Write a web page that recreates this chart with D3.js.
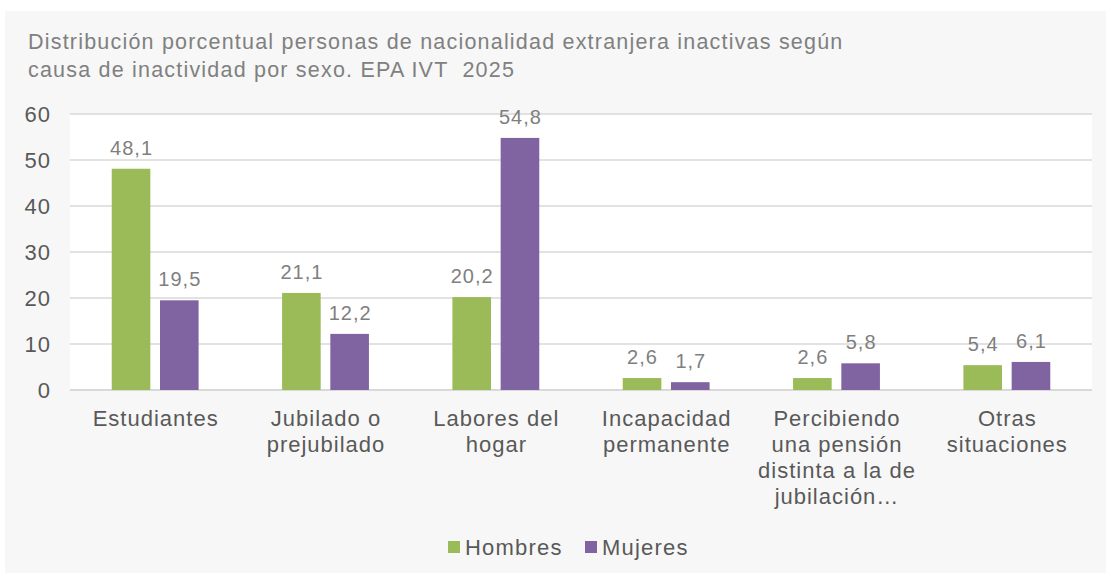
<!DOCTYPE html>
<html>
<head>
<meta charset="utf-8">
<script src="https://cdn.jsdelivr.net/npm/d3@7"></script>
<style>
  body { margin: 0; background: #ffffff; }
  text { font-family: "Liberation Sans", Arial, sans-serif; }
</style>
</head>
<body>
<div id="chart"></div>
<script>

var categories = [
  ["Estudiantes"],
  ["Jubilado o", "prejubilado"],
  ["Labores del", "hogar"],
  ["Incapacidad", "permanente"],
  ["Percibiendo", "una pensión", "distinta a la de", "jubilación…"],
  ["Otras", "situaciones"]
];
var series = ["Hombres", "Mujeres"];
var hombres = [48.1, 21.1, 20.2, 2.6, 2.6, 5.4];
var mujeres = [19.5, 12.2, 54.8, 1.7, 5.8, 6.1];
var yTicks = [0, 10, 20, 30, 40, 50, 60];
var titleLines = [
  "Distribución porcentual personas de nacionalidad extranjera inactivas según",
  "causa de inactividad por sexo. EPA IVT  2025"
];

var colors = {Hombres: "#9bbb59", Mujeres: "#8064a2"};
var values = {Hombres: hombres, Mujeres: mujeres};

var W = 1106, H = 574;
var margin = {top: 114, right: 14, bottom: 184, left: 70},
    width = W - margin.left - margin.right,
    height = H - margin.top - margin.bottom;

var svg = d3.select("#chart").append("svg")
  .attr("width", W)
  .attr("height", H);

// chart background
svg.append("rect")
  .attr("x", 5).attr("y", 11)
  .attr("width", W - 5).attr("height", H - 12)
  .attr("fill", "#f7f7f7");

// title
svg.append("g").selectAll("text")
  .data(titleLines)
  .enter().append("text")
    .attr("x", 28)
    .attr("y", function(d, i) { return 49 + i * 28; })
    .attr("fill", "#808080")
    .style("font-size", "21.5px")
    .style("letter-spacing", "1.2px")
    .style("white-space", "pre")
    .text(function(d) { return d; });

var g = svg.append("g")
  .attr("transform", "translate(" + margin.left + "," + margin.top + ")");

g.append("rect")
  .attr("width", width)
  .attr("height", height)
  .attr("fill", "#ffffff");

var x0 = d3.scaleBand()
  .domain(d3.range(categories.length))
  .range([0, width])
  .paddingInner(0.49)
  .paddingOuter(0.245);

var x1 = d3.scaleBand()
  .domain(series)
  .range([0, x0.bandwidth()])
  .paddingInner(0.2);

var y = d3.scaleLinear().domain([0, 60]).range([height, 0]);

// gridlines
g.append("g")
  .selectAll("line")
  .data(yTicks)
  .enter().append("line")
    .attr("x1", 0).attr("x2", width)
    .attr("y1", function(d) { return y(d); })
    .attr("y2", function(d) { return y(d); })
    .attr("stroke", "#d9d9d9")
    .attr("stroke-width", function(d) { return d === 0 ? 2 : 1.3; });

// y axis labels
var yAxis = d3.axisLeft(y).tickValues(yTicks).tickSize(0).tickPadding(19);
var ya = g.append("g").call(yAxis);
ya.select(".domain").remove();
ya.selectAll("text")
  .attr("fill", "#595959")
  .style("font-size", "22px")
  .style("letter-spacing", "1px")
  .style("font-family", "'Liberation Sans', Arial, sans-serif");

// bars
var groups = g.selectAll(".cat")
  .data(categories)
  .enter().append("g")
    .attr("class", "cat")
    .attr("transform", function(d, i) { return "translate(" + x0(i) + ",0)"; });

groups.each(function(d, i) {
  var grp = d3.select(this);
  series.forEach(function(s) {
    var v = values[s][i];
    grp.append("rect")
      .attr("x", x1(s))
      .attr("y", y(v))
      .attr("width", x1.bandwidth())
      .attr("height", y(0) - y(v))
      .attr("fill", colors[s]);
    grp.append("text")
      .attr("x", x1(s) + x1.bandwidth() / 2 + 0.5)
      .attr("y", y(v) - 14)
      .attr("text-anchor", "middle")
      .attr("fill", "#7f7f7f")
      .style("font-size", "20px")
      .style("letter-spacing", "1px")
      .text(d3.format(".1f")(v).replace(".", ","));
  });
});

// category labels
var xAxis = g.append("g")
  .attr("transform", "translate(0," + height + ")");
categories.forEach(function(lines, i) {
  var t = xAxis.append("text")
    .attr("text-anchor", "middle")
    .attr("fill", "#595959")
    .style("font-size", "22px")
    .style("letter-spacing", "1px");
  lines.forEach(function(line, j) {
    t.append("tspan")
      .attr("x", x0(i) + x0.bandwidth() / 2 + 0.5)
      .attr("y", 36 + j * 26)
      .text(line);
  });
});

// legend
var legend = svg.append("g")
  .attr("transform", "translate(448,541)");
var li = legend.selectAll("g")
  .data(series)
  .enter().append("g")
    .attr("transform", function(d, i) { return "translate(" + (i * 137) + ",0)"; });
li.append("rect")
  .attr("width", 12).attr("height", 12)
  .attr("fill", function(d) { return colors[d]; });
li.append("text")
  .attr("x", 17)
  .attr("y", 14)
  .attr("fill", "#595959")
  .style("font-size", "22px")
  .style("letter-spacing", "1.2px")
  .text(function(d) { return d; });

</script>
</body>
</html>
